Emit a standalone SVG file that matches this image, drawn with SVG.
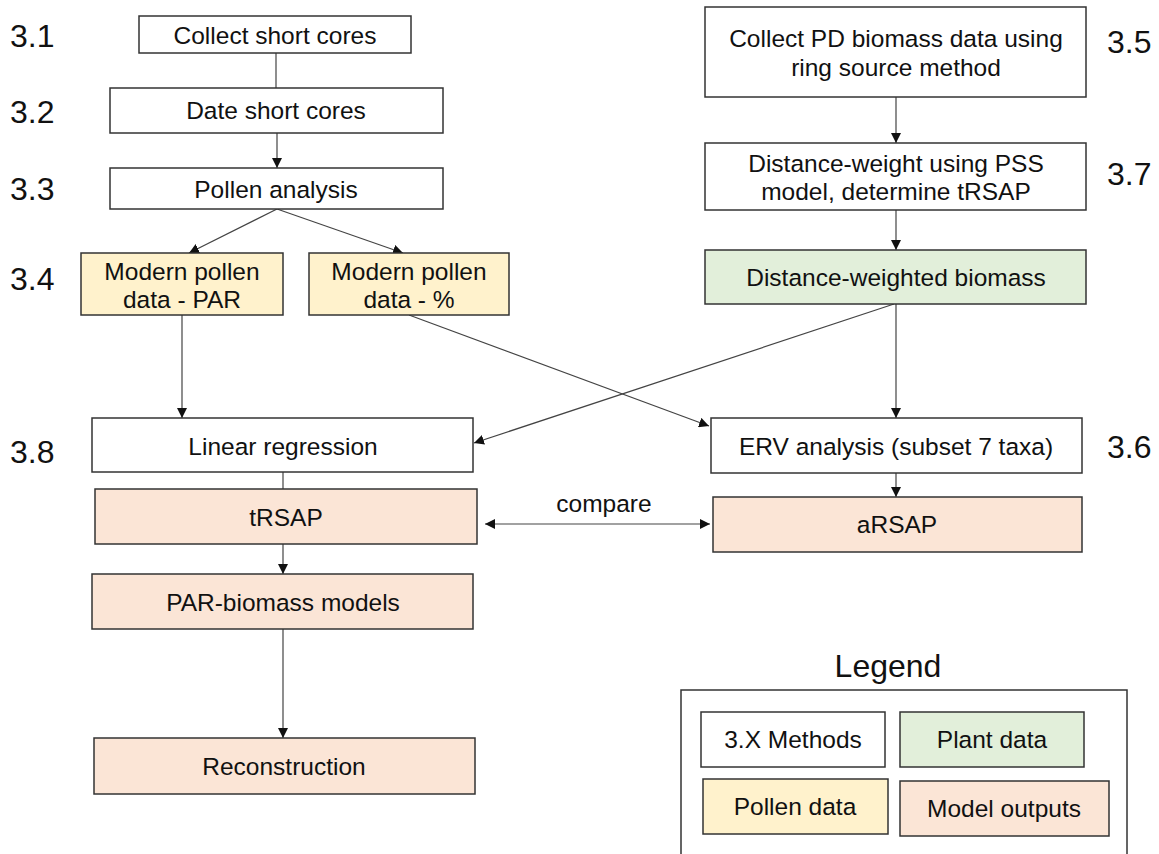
<svg xmlns="http://www.w3.org/2000/svg" width="1159" height="854" viewBox="0 0 1159 854">
<defs>
<style>
.box{stroke:#333;stroke-width:1.5}
.m{fill:#fff}
.p{fill:#fff2cc}
.g{fill:#e2efda}
.o{fill:#fbe5d6}
text{font-family:"Liberation Sans",Arial,sans-serif;fill:#111}
.t{font-size:24.5px;text-anchor:middle}
.n{font-size:32px}
.c{stroke:#444;stroke-width:1.2;fill:none}
</style>
<marker id="ah" viewBox="0 0 10 10" refX="10" refY="5" markerWidth="10" markerHeight="10" markerUnits="userSpaceOnUse" orient="auto-start-reverse">
<path d="M0,0 L10,5 L0,10 z" fill="#111"/>
</marker>
</defs>
<rect width="1159" height="854" fill="#fff"/>

<g id="labels">
<text class="n" x="10" y="47">3.1</text>
<text class="n" x="10" y="123">3.2</text>
<text class="n" x="10" y="200">3.3</text>
<text class="n" x="10" y="290">3.4</text>
<text class="n" x="10" y="463">3.8</text>
<text class="n" x="1107" y="53">3.5</text>
<text class="n" x="1107" y="185">3.7</text>
<text class="n" x="1107" y="458">3.6</text>
</g>

<g id="connectors">
<line class="c" x1="276" y1="53" x2="276" y2="88" stroke="#888"/>
<line class="c" x1="277" y1="133" x2="277" y2="168" marker-end="url(#ah)"/>
<line class="c" x1="277" y1="209" x2="189" y2="253" marker-end="url(#ah)"/>
<line class="c" x1="277" y1="209" x2="403" y2="253" marker-end="url(#ah)"/>
<line class="c" x1="182" y1="315" x2="182" y2="418" marker-end="url(#ah)"/>
<line class="c" x1="409" y1="315" x2="709" y2="426" marker-end="url(#ah)"/>
<line class="c" x1="896" y1="97" x2="896" y2="143" marker-end="url(#ah)"/>
<line class="c" x1="896" y1="210" x2="896" y2="250" marker-end="url(#ah)"/>
<line class="c" x1="896" y1="304" x2="896" y2="418" marker-end="url(#ah)"/>
<line class="c" x1="894" y1="304" x2="474" y2="443" marker-end="url(#ah)"/>
<line class="c" x1="283" y1="472" x2="283" y2="489"/>
<line class="c" x1="283" y1="544" x2="283" y2="574" marker-end="url(#ah)"/>
<line class="c" x1="283" y1="629" x2="283" y2="738" marker-end="url(#ah)"/>
<line class="c" x1="896" y1="473" x2="896" y2="497" marker-end="url(#ah)"/>
<line class="c" x1="485" y1="524" x2="710" y2="524" marker-start="url(#ah)" marker-end="url(#ah)"/>
<text class="t" x="604" y="512">compare</text>
</g>

<g id="collect-short-cores">
<rect class="box m" x="139" y="16" width="272" height="37"/>
<text class="t" x="275" y="44">Collect short cores</text>
</g>
<g id="date-short-cores">
<rect class="box m" x="110" y="88" width="333" height="45"/>
<text class="t" x="276" y="119">Date short cores</text>
</g>
<g id="pollen-analysis">
<rect class="box m" x="110" y="168" width="333" height="41"/>
<text class="t" x="276" y="198">Pollen analysis</text>
</g>
<g id="modern-par">
<rect class="box p" x="81" y="253" width="202" height="62"/>
<text class="t" x="182" y="280">Modern pollen</text>
<text class="t" x="182" y="308">data - PAR</text>
</g>
<g id="modern-pct">
<rect class="box p" x="309" y="253" width="200" height="62"/>
<text class="t" x="409" y="280">Modern pollen</text>
<text class="t" x="409" y="308">data - %</text>
</g>
<g id="collect-pd">
<rect class="box m" x="705" y="7" width="381" height="90"/>
<text class="t" x="896" y="47">Collect PD biomass data using</text>
<text class="t" x="896" y="76">ring source method</text>
</g>
<g id="distance-weight">
<rect class="box m" x="705" y="143" width="381" height="67"/>
<text class="t" x="896" y="172">Distance-weight using PSS</text>
<text class="t" x="896" y="200">model, determine tRSAP</text>
</g>
<g id="dw-biomass">
<rect class="box g" x="705" y="250" width="381" height="54"/>
<text class="t" x="896" y="286">Distance-weighted biomass</text>
</g>
<g id="linear-regression">
<rect class="box m" x="92" y="418" width="381" height="54"/>
<text class="t" x="283" y="455">Linear regression</text>
</g>
<g id="erv">
<rect class="box m" x="711" y="418" width="371" height="55"/>
<text class="t" x="896" y="455">ERV analysis (subset 7 taxa)</text>
</g>
<g id="trsap">
<rect class="box o" x="95" y="489" width="382" height="55"/>
<text class="t" x="286" y="526">tRSAP</text>
</g>
<g id="arsap">
<rect class="box o" x="713" y="497" width="369" height="55"/>
<text class="t" x="897" y="533">aRSAP</text>
</g>
<g id="par-biomass">
<rect class="box o" x="92" y="574" width="381" height="55"/>
<text class="t" x="283" y="611">PAR-biomass models</text>
</g>
<g id="reconstruction">
<rect class="box o" x="94" y="738" width="381" height="56"/>
<text class="t" x="284" y="775">Reconstruction</text>
</g>

<g id="legend">
<text x="888" y="677" style="font-size:32px;text-anchor:middle">Legend</text>
<rect class="box" x="681" y="690" width="446" height="180" fill="#fff"/>
<rect class="box m" x="701" y="712" width="184" height="55"/>
<text class="t" x="793" y="748">3.X Methods</text>
<rect class="box g" x="900" y="712" width="184" height="55"/>
<text class="t" x="992" y="748">Plant data</text>
<rect class="box p" x="703" y="779" width="185" height="55"/>
<text class="t" x="795" y="815">Pollen data</text>
<rect class="box o" x="900" y="781" width="209" height="55"/>
<text class="t" x="1004" y="817">Model outputs</text>
</g>
</svg>
